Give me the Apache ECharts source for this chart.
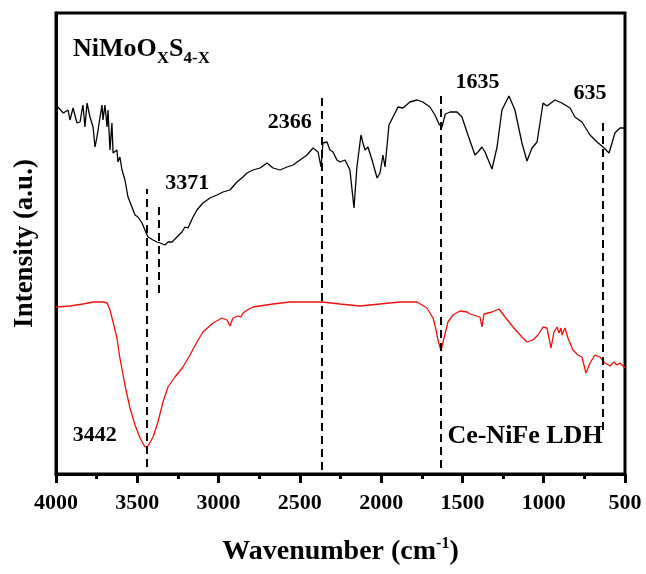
<!DOCTYPE html>
<html>
<head>
<meta charset="utf-8">
<script src="https://cdn.jsdelivr.net/npm/echarts@6/dist/echarts.min.js"></script>
<style>
  html, body { margin: 0; padding: 0; background: #fff; }
  #chart { width: 646px; height: 574px; }
</style>
</head>
<body>
<div id="chart"></div>
<script>
// FTIR spectra (transmittance, arbitrary units, offset for clarity)
const nimoWavenumber = [4000,3955,3926,3914,3895,3871,3852,3840,3834,3822,3809,3803,3791,3772,3760,3748,3729,3717,3711,3699,3686,3680,3668,3656,3649,3625,3619,3607,3594,3576,3557,3533,3514,3496,3471,3453,3434,3403,3379,3360,3330,3311,3286,3256,3225,3207,3188,3157,3133,3096,3053,3010,2973,2930,2887,2850,2825,2788,2745,2702,2665,2622,2579,2542,2499,2456,2419,2388,2370,2358,2333,2315,2296,2272,2253,2222,2192,2167,2149,2124,2112,2099,2081,2056,2025,2007,1989,1976,1952,1927,1896,1866,1823,1779,1743,1700,1669,1644,1626,1605,1576,1533,1503,1466,1423,1404,1380,1361,1318,1287,1257,1214,1177,1134,1103,1072,1041,1004,980,931,888,838,808,765,715,672,635,598,562,531,500];
const nimoIntensity = [369,361,364,354,366,351,352,364,369,347,371,371,357,347,327,337,357,369,354,369,347,364,324,351,321,324,312,317,304,294,277,267,259,257,251,244,237,234,232,231,229,232,232,237,242,247,246,257,264,271,276,279,282,284,292,297,301,304,306,311,306,304,307,309,314,319,326,322,307,331,332,324,322,314,312,314,304,266,307,339,331,324,327,314,296,301,319,307,349,357,367,366,372,374,372,367,359,350,347,360,362,362,357,339,319,322,327,322,305,327,364,378,364,331,313,326,332,371,368,374,371,366,357,352,339,332,327,321,341,346,346];

const ldhWavenumber = [4000,3914,3834,3772,3711,3686,3668,3649,3625,3607,3576,3545,3514,3483,3453,3434,3403,3373,3342,3311,3268,3219,3176,3133,3096,3034,2979,2948,2930,2911,2880,2862,2850,2813,2788,2665,2561,2456,2364,2253,2130,2007,1884,1779,1718,1681,1669,1650,1632,1613,1589,1558,1515,1472,1453,1392,1380,1367,1318,1275,1238,1189,1134,1103,1066,1035,1004,980,955,937,918,906,894,888,869,851,820,789,765,740,715,685,654,623,592,568,549,531,500];
const ldhIntensity = [167,168,170,172,172,171,164,152,136,116,89,66,49,36,27,28,37,52,72,87,97,107,119,132,142,151,156,154,148,156,158,157,161,165,167,170,172,172,172,170,168,170,172,172,166,156,149,134,123,136,152,159,163,162,160,157,147,160,162,165,157,147,137,132,134,139,147,146,126,142,147,141,146,139,146,136,124,119,117,101,111,119,117,111,108,112,109,111,106];

// Assigned band positions (cm-1)
const nimoBands = [3371, 2366, 1635, 635];
const ldhBands = [3442];

const xTicks = [500, 1000, 1500, 2000, 2500, 3000, 3500, 4000];

const FONT = '"Liberation Serif", "Times New Roman", serif';

function pairs(xs, ys) {
  const n = Math.min(xs.length, ys.length);
  const out = [];
  for (let i = 0; i < n; i++) out.push([xs[i], ys[i]]);
  return out;
}

// guide-line extents (intensity units) and label offsets (px) per band
const nimoGuide = {
  3371: { from: 181, to: 272, offset: [29, -19] },
  2366: { from: 4, to: 381, offset: [-32, 29] },
  1635: { from: 6, to: 381, offset: [37, -11] },
  635:  { from: 44, to: 354, offset: [-13, -27] }
};
const ldhGuide = {
  3442: { from: 7, to: 285, anchor: 7, offset: [-52, -32] }
};

function guideLines(bands, guide) {
  return bands.map(b => [
    { coord: [b, guide[b].from] },
    { coord: [b, guide[b].to] }
  ]);
}
function guideLabels(bands, guide) {
  return bands.map(b => ({
    coord: [b, guide[b].anchor !== undefined ? guide[b].anchor : guide[b].to],
    value: b,
    label: { offset: guide[b].offset }
  }));
}

const dashStyle = { color: '#000', width: 2, type: [8, 5] };
const bandLabel = {
  show: true, position: 'inside', formatter: '{c}',
  color: '#000', fontFamily: FONT, fontWeight: 'bold', fontSize: 22
};

const chart = echarts.init(document.getElementById('chart'), null, { renderer: 'canvas' });

chart.setOption({
  animation: false,
  backgroundColor: '#fff',
  grid: { left: 56, right: 21, top: 13, bottom: 100, show: true, borderColor: '#000', borderWidth: 3 },
  xAxis: {
    type: 'value', min: 500, max: 4000, interval: 500, inverse: true,
    axisLine: { show: true, onZero: false, lineStyle: { color: '#000', width: 3 } },
    axisTick: { show: true, length: 9, lineStyle: { color: '#000', width: 3 } },
    minorTick: { show: true, splitNumber: 2, length: 5, lineStyle: { color: '#000', width: 3 } },
    splitLine: { show: false },
    axisLabel: {
      color: '#000', fontFamily: FONT, fontWeight: 'bold', fontSize: 22, margin: 18,
      formatter: v => (xTicks.indexOf(v) >= 0 ? String(v) : '')
    },
    name: '{m|Wavenumber (cm}{s|-1}{e|)}',
    nameLocation: 'middle', nameGap: 62,
    nameTextStyle: {
      rich: {
        m: { fontFamily: FONT, fontWeight: 'bold', fontSize: 28, color: '#000', lineHeight: 30, padding: [6, 0, 0, 0], verticalAlign: 'bottom' },
        e: { fontFamily: FONT, fontWeight: 'bold', fontSize: 28, color: '#000', lineHeight: 30, padding: [6, 0, 0, 0], verticalAlign: 'bottom' },
        s: { fontFamily: FONT, fontWeight: 'bold', fontSize: 16, color: '#000', lineHeight: 16, verticalAlign: 'top' }
      }
    }
  },
  yAxis: {
    type: 'value', min: 0, max: 461,
    axisLine: { show: true, lineStyle: { color: '#000', width: 3 } },
    axisTick: { show: false }, axisLabel: { show: false }, splitLine: { show: false },
    name: 'Intensity (a.u.)', nameLocation: 'middle', nameGap: 17, nameRotate: 90,
    nameTextStyle: { fontFamily: FONT, fontWeight: 'bold', fontSize: 27, color: '#000' }
  },
  series: [
    {
      name: 'NiMoOxS4-x', type: 'line', data: pairs(nimoWavenumber, nimoIntensity),
      showSymbol: false, symbol: 'none', silent: true,
      lineStyle: { color: '#000', width: 1.3 },
      markLine: {
        silent: true, symbol: ['none', 'none'], label: { show: false },
        lineStyle: dashStyle, data: guideLines(nimoBands, nimoGuide)
      },
      markPoint: {
        silent: true, symbol: 'circle', symbolSize: 0,
        label: bandLabel, data: guideLabels(nimoBands, nimoGuide)
      }
    },
    {
      name: 'Ce-NiFe LDH', type: 'line', data: pairs(ldhWavenumber, ldhIntensity),
      showSymbol: false, symbol: 'none', silent: true,
      lineStyle: { color: '#f01010', width: 1.3 },
      markLine: {
        silent: true, symbol: ['none', 'none'], label: { show: false },
        lineStyle: dashStyle, data: guideLines(ldhBands, ldhGuide)
      },
      markPoint: {
        silent: true, symbol: 'circle', symbolSize: 0,
        label: bandLabel, data: guideLabels(ldhBands, ldhGuide)
      }
    }
  ],
  graphic: [
    {
      type: 'text', left: 73, top: 36, silent: true,
      style: {
        text: '{m|NiMoO}{s|X}{m|S}{s|4-X}',
        rich: {
          m: { fontFamily: FONT, fontWeight: 'bold', fontSize: 26, fill: '#000', lineHeight: 28, verticalAlign: 'top' },
          s: { fontFamily: FONT, fontWeight: 'bold', fontSize: 17, fill: '#000', lineHeight: 16, padding: [14, 0, 0, 0], verticalAlign: 'top' }
        }
      }
    },
    {
      type: 'text', x: 525, y: 436, silent: true,
      style: {
        text: 'Ce-NiFe LDH', align: 'center', verticalAlign: 'middle',
        font: 'bold 26px "Liberation Serif", "Times New Roman", serif', fill: '#000'
      }
    }
  ]
});
</script>
</body>
</html>
